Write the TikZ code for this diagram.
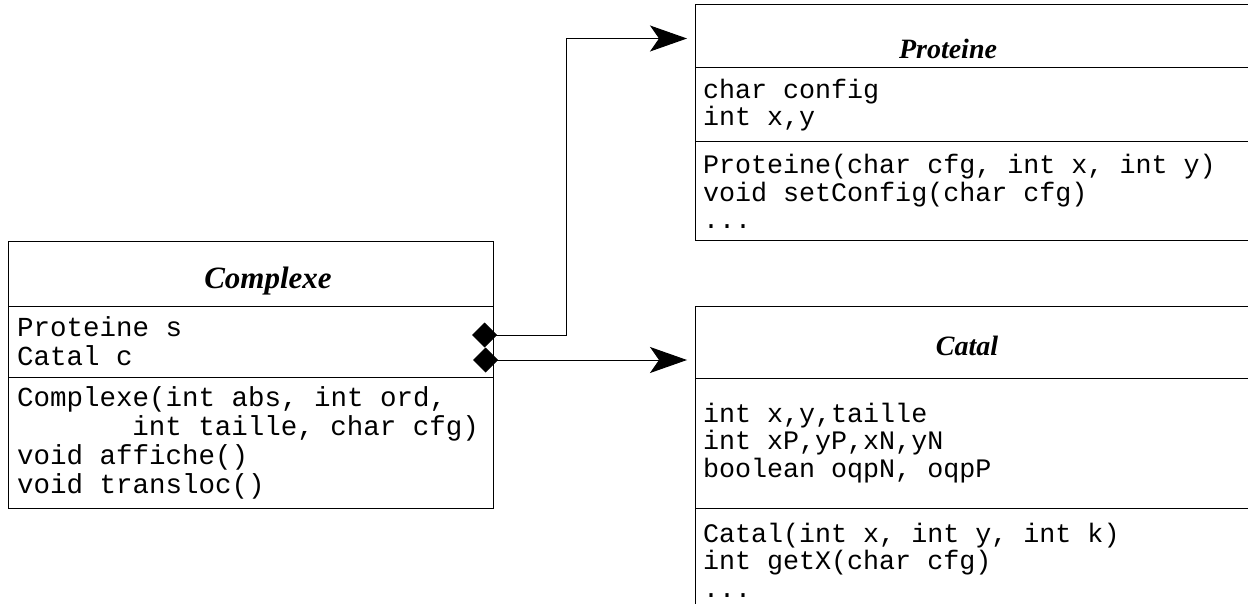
\documentclass[tikz,border=0pt]{standalone}
\usepackage{fontspec}
\setmainfont{Liberation Serif}
\setmonofont{Liberation Mono}
\usetikzlibrary{arrows.meta}

\newcommand\codefont[2]{\ttfamily\fontsize{#1}{#2}\selectfont}

\tikzset{
  part/.style={draw, line width=1pt, anchor=north west, outer sep=0pt,
    inner xsep=8pt, inner ysep=0pt, align=left, font={\codefont{26.7}{27.5}},
    % full-width blanks, as in a typewriter listing
    execute at begin node={\spaceskip=0.6em\relax\xspaceskip=0.6em\relax}},
  bigpart/.style={part, inner xsep=9pt, font={\codefont{27.5}{29}}},
  classname/.style={anchor=base, font=\bfseries\itshape\fontsize{28}{30}\selectfont},
  bigname/.style={classname, font=\bfseries\itshape\fontsize{31}{33}\selectfont},
  has/.style={line width=1pt, shorten >=8pt,
    {Diamond[length=25pt,width=25pt]}-{Stealth[length=37pt,width=26pt,inset=9pt]}}
}

\begin{document}
\begin{tikzpicture}[x=1pt, y=-1pt]
  \useasboundingbox (0,0) rectangle (1248,604);
  \clip (0,0) rectangle (1248,604);

  % Complexe
  \node[bigpart, text width=467pt, minimum height=64pt] (cxtop) at (8,242) {};
  \node[bigpart, text width=467pt, minimum height=71pt] (cxattr) at (cxtop.south west)
    {Proteine s\\Catal c};
  \node[bigpart, text width=467pt, minimum height=131pt] (cxmeth) at (cxattr.south west)
    {Complexe(int abs, int ord,\\\hspace*{4.2em}int taille, char cfg)\\void affiche()\\void transloc()};
  \node[bigname] at (268,288) {Complexe};

  % Proteine
  \node[part, text width=549pt, minimum height=63pt] (prtop) at (695,5) {};
  \node[part, text width=549pt, minimum height=74pt] (prattr) at (prtop.south west)
    {char config\\int x,y};
  \node[part, text width=549pt, minimum height=99pt] (prmeth) at (prattr.south west)
    {Proteine(char cfg, int x, int y)\\void setConfig(char cfg)\\...};
  \node[classname] at (948,59) {Proteine};

  % Catal
  \node[part, text width=549pt, minimum height=72pt] (catop) at (695,306) {};
  \node[part, text width=549pt, minimum height=130pt] (caattr) at (catop.south west)
    {int x,y,taille\\int xP,yP,xN,yN\\boolean oqpN, oqpP};
  \node[part, text width=549pt, minimum height=104pt] (cameth) at (caattr.south west)
    {Catal(int x, int y, int k)\\int getX(char cfg)\\...};
  \node[classname] at (967,355) {Catal};

  % compositions
  \coordinate (hasP) at ([xshift=-21pt,yshift=6.5pt]cxattr.east);
  \coordinate (hasC) at ([xshift=-20pt,yshift=-18.5pt]cxattr.east);
  \draw[has] (hasP) -- ++(94,0) |- ([yshift=-2pt]prtop.west);
  \draw[has] (hasC) -- (catop.west |- hasC);
\end{tikzpicture}
\end{document}
